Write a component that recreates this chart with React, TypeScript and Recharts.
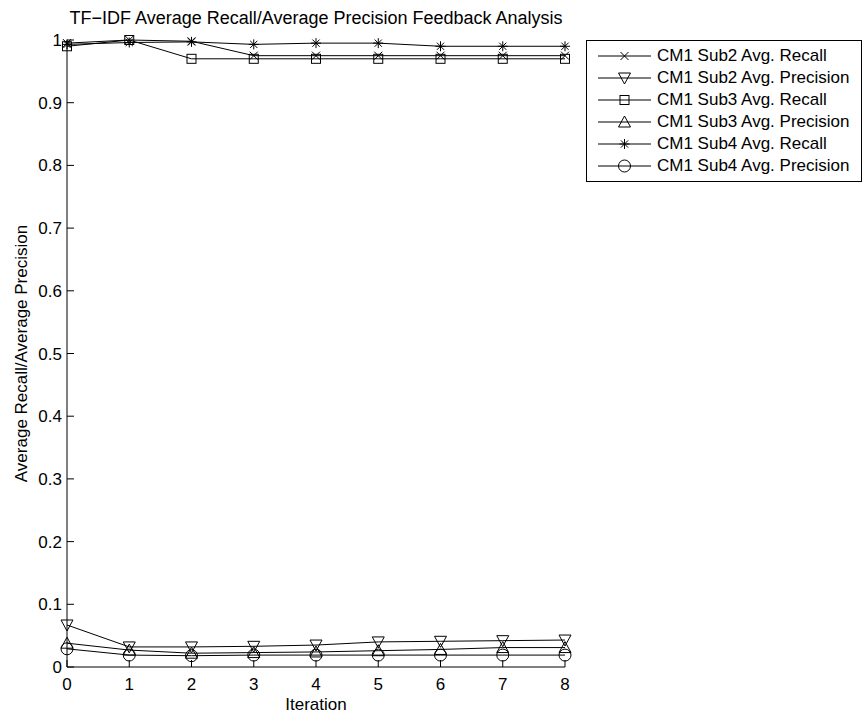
import React from "react";
import { LineChart, Line, XAxis, YAxis } from "recharts";

const iterations = [0, 1, 2, 3, 4, 5, 6, 7, 8];
const sub2Recall = [0.995, 1.0, 0.998, 0.975, 0.975, 0.975, 0.975, 0.975, 0.975];
const sub2Precision = [0.067, 0.032, 0.032, 0.033, 0.035, 0.04, 0.041, 0.042, 0.043];
const sub3Recall = [0.99, 1.0, 0.97, 0.97, 0.97, 0.97, 0.97, 0.97, 0.97];
const sub3Precision = [0.038, 0.027, 0.022, 0.023, 0.024, 0.026, 0.028, 0.031, 0.031];
const sub4Recall = [0.993, 0.996, 0.997, 0.993, 0.995, 0.995, 0.99, 0.99, 0.99];
const sub4Precision = [0.029, 0.019, 0.018, 0.019, 0.019, 0.019, 0.019, 0.019, 0.019];

const xTicks = iterations;
const yTicks = [0, 0.1, 0.2, 0.3, 0.4, 0.5, 0.6, 0.7, 0.8, 0.9, 1];

const FONT = '"Liberation Sans", Arial, Helvetica, sans-serif';
const FONT_SIZE = 17;
const TICK_LEN = 7;

type Shape = "x" | "triangleDown" | "square" | "triangleUp" | "asterisk" | "circle";

const series: { key: string; name: string; values: number[]; shape: Shape }[] = [
  { key: "sub2Recall", name: "CM1 Sub2 Avg. Recall", values: sub2Recall, shape: "x" },
  { key: "sub2Precision", name: "CM1 Sub2 Avg. Precision", values: sub2Precision, shape: "triangleDown" },
  { key: "sub3Recall", name: "CM1 Sub3 Avg. Recall", values: sub3Recall, shape: "square" },
  { key: "sub3Precision", name: "CM1 Sub3 Avg. Precision", values: sub3Precision, shape: "triangleUp" },
  { key: "sub4Recall", name: "CM1 Sub4 Avg. Recall", values: sub4Recall, shape: "asterisk" },
  { key: "sub4Precision", name: "CM1 Sub4 Avg. Precision", values: sub4Precision, shape: "circle" },
];

const data = iterations.map((it, i) => {
  const row: Record<string, number> = { iteration: it };
  series.forEach((s) => {
    row[s.key] = s.values[i];
  });
  return row;
});

// matlab-style hollow markers
const Marker = ({ cx, cy, shape }: { cx: number; cy: number; shape: Shape }) => {
  const common = { stroke: "#000", strokeWidth: 1, fill: "none" };
  switch (shape) {
    case "x": {
      const r = 4;
      return (
        <path
          d={`M${cx - r},${cy - r}L${cx + r},${cy + r}M${cx - r},${cy + r}L${cx + r},${cy - r}`}
          {...common}
        />
      );
    }
    case "triangleDown":
      return <polygon points={`${cx - 6},${cy - 5} ${cx + 6},${cy - 5} ${cx},${cy + 6}`} {...common} />;
    case "triangleUp":
      return <polygon points={`${cx - 6},${cy + 5} ${cx + 6},${cy + 5} ${cx},${cy - 6}`} {...common} />;
    case "square":
      return <rect x={cx - 4.5} y={cy - 4.5} width={9} height={9} {...common} />;
    case "asterisk": {
      const r = 5;
      const d = 3.6;
      return (
        <path
          d={`M${cx - r},${cy}L${cx + r},${cy}M${cx},${cy - r}L${cx},${cy + r}M${cx - d},${cy - d}L${cx + d},${cy + d}M${cx - d},${cy + d}L${cx + d},${cy - d}`}
          {...common}
        />
      );
    }
    case "circle":
    default:
      return <circle cx={cx} cy={cy} r={6} {...common} />;
  }
};

const renderDot = (shape: Shape) => (props: any) =>
  <Marker key={props.index} cx={props.cx} cy={props.cy} shape={shape} />;

const BottomTick = ({ x, y, payload }: any) => (
  <g>
    <line x1={x} y1={y} x2={x} y2={y - TICK_LEN} stroke="#000" />
    <text x={x} y={y + 23} textAnchor="middle" fontFamily={FONT} fontSize={FONT_SIZE} fill="#000">
      {payload.value}
    </text>
  </g>
);

const TopTick = ({ x, y }: any) => <line x1={x} y1={y} x2={x} y2={y + TICK_LEN} stroke="#000" />;

const LeftTick = ({ x, y, payload }: any) => (
  <g>
    <line x1={x} y1={y} x2={x + TICK_LEN} y2={y} stroke="#000" />
    <text x={x - 5} y={y + 6} textAnchor="end" fontFamily={FONT} fontSize={FONT_SIZE} fill="#000">
      {String(payload.value)}
    </text>
  </g>
);

const RightTick = ({ x, y }: any) => <line x1={x} y1={y} x2={x - TICK_LEN} y2={y} stroke="#000" />;

const YTitle = ({ viewBox }: any) => {
  const x = viewBox.x + 27;
  const y = viewBox.y + viewBox.height / 2;
  return (
    <text
      x={x}
      y={y}
      transform={`rotate(-90, ${x}, ${y})`}
      textAnchor="middle"
      fontFamily={FONT}
      fontSize={FONT_SIZE}
      fill="#000"
    >
      Average Recall/Average Precision
    </text>
  );
};

const XTitle = ({ viewBox }: any) => {
  const x = viewBox.x + viewBox.width / 2;
  const y = viewBox.y + 43;
  return (
    <text x={x} y={y} textAnchor="middle" fontFamily={FONT} fontSize={FONT_SIZE} fill="#000">
      Iteration
    </text>
  );
};

const LegendBox = () => (
  <div
    style={{
      position: "absolute",
      left: 586,
      top: 40,
      width: 276,
      border: "1px solid #000",
      background: "#fff",
      padding: "4px 0",
      fontFamily: FONT,
      fontSize: FONT_SIZE,
      boxSizing: "border-box",
    }}
  >
    {series.map((s) => (
      <div key={s.key} style={{ display: "flex", alignItems: "center", height: 22 }}>
        <svg width={70} height={22} style={{ flex: "none" }}>
          <line x1={11} y1={11} x2={64} y2={11} stroke="#000" />
          <Marker cx={37.5} cy={11} shape={s.shape} />
        </svg>
        <span style={{ whiteSpace: "nowrap" }}>{s.name}</span>
      </div>
    ))}
  </div>
);

export default function App() {
  return (
    <div style={{ position: "relative", width: 867, height: 720, background: "#fff" }}>
      <style>{`body { margin: 0; }`}</style>
      <div
        style={{
          position: "absolute",
          left: 67,
          width: 498,
          top: 8,
          textAlign: "center",
          fontFamily: FONT,
          fontSize: 18,
          whiteSpace: "nowrap",
        }}
      >
        TF−IDF Average Recall/Average Precision Feedback Analysis
      </div>
      <LineChart
        width={867}
        height={720}
        data={data}
        margin={{ top: 40, right: 302, bottom: 0, left: 0 }}
      >
        <XAxis
          dataKey="iteration"
          type="number"
          domain={[0, 8]}
          ticks={xTicks}
          height={53}
          axisLine={{ stroke: "#000" }}
          tickLine={false}
          tickSize={0}
          tickMargin={0}
          tick={<BottomTick />}
          interval={0}
          label={<XTitle />}
        />
        <XAxis
          xAxisId="top"
          orientation="top"
          dataKey="iteration"
          type="number"
          domain={[0, 8]}
          ticks={xTicks}
          height={0}
          axisLine={{ stroke: "#000" }}
          tickLine={false}
          tickSize={0}
          tickMargin={0}
          tick={<TopTick />}
          interval={0}
        />
        <YAxis
          type="number"
          domain={[0, 1]}
          ticks={yTicks}
          width={67}
          axisLine={{ stroke: "#000" }}
          tickLine={false}
          tickSize={0}
          tickMargin={0}
          tick={<LeftTick />}
          interval={0}
          label={<YTitle />}
        />
        <YAxis
          yAxisId="right"
          orientation="right"
          type="number"
          domain={[0, 1]}
          ticks={yTicks}
          width={0}
          axisLine={{ stroke: "#000" }}
          tickLine={false}
          tickSize={0}
          tickMargin={0}
          tick={<RightTick />}
          interval={0}
        />
        {series.map((s) => (
          <Line
            key={s.key}
            dataKey={s.key}
            name={s.name}
            stroke="#000"
            strokeWidth={1}
            dot={renderDot(s.shape)}
            activeDot={false}
            isAnimationActive={false}
          />
        ))}
      </LineChart>
      <LegendBox />
    </div>
  );
}
